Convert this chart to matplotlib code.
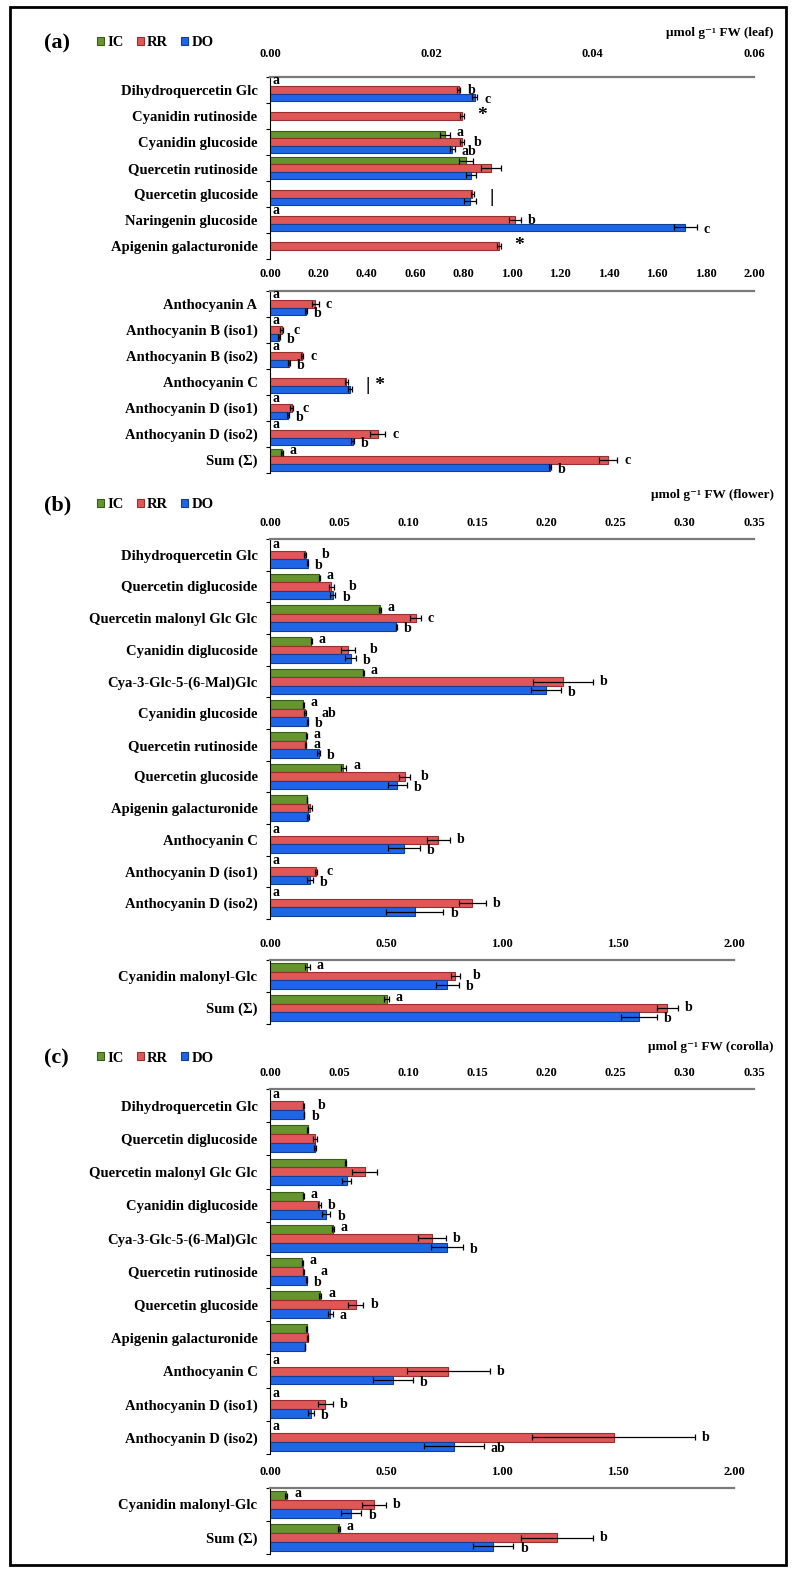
import numpy as np
import matplotlib
matplotlib.use('Agg')
import matplotlib.pyplot as plt
from matplotlib.patches import Patch, Rectangle

plt.rcParams['font.family'] = ['Liberation Serif', 'DejaVu Serif']
plt.rcParams['font.weight'] = 'bold'

W, H = 795, 1576
series = ['IC', 'RR', 'DO']
colors = ['#64952f', '#e05757', '#1f66e6']
edges = ['#3b5c19', '#963030', '#103f94']
BAR_H = 0.27

# ---- (a) leaf, upper block (0 - 0.06)
a1_cats = ['Dihydroquercetin Glc', 'Cyanidin rutinoside', 'Cyanidin glucoside',
           'Quercetin rutinoside', 'Quercetin glucoside', 'Naringenin glucoside',
           'Apigenin galacturonide']
a1_ic = [0, 0, 0.0217, 0.0243, 0, 0, 0]
a1_rr = [0.0234, 0.0238, 0.0238, 0.0274, 0.0251, 0.0304, 0.0284]
a1_do = [0.0254, 0, 0.0226, 0.0249, 0.0248, 0.0515, 0]
a1_ic_err = [0, 0, 0.0006, 0.0009, 0, 0, 0]
a1_rr_err = [0.0002, 0.0002, 0.0002, 0.00125, 0.0002, 0.00075, 0.0002]
a1_do_err = [0.0003, 0, 0.0003, 0.0006, 0.00075, 0.0014, 0]
a1_ic_lab = ['a', '', 'a', '', '', 'a', '']
a1_rr_lab = ['b', '', 'b', '', '', 'b', '']
a1_do_lab = ['c', '', 'ab', '', '', 'c', '']
a1_marks = ['', '*', '', '', '|', '', '*']

# ---- (a) leaf, lower block (0 - 2.00)
a2_cats = ['Anthocyanin A', 'Anthocyanin B (iso1)', 'Anthocyanin B (iso2)',
           'Anthocyanin C', 'Anthocyanin D (iso1)', 'Anthocyanin D (iso2)', 'Sum (Σ)']
a2_ic = [0, 0, 0, 0, 0, 0, 0.048]
a2_rr = [0.188, 0.048, 0.132, 0.316, 0.090, 0.446, 1.397]
a2_do = [0.1485, 0.038, 0.0795, 0.330, 0.075, 0.341, 1.157]
a2_ic_err = [0, 0, 0, 0, 0, 0, 0.004]
a2_rr_err = [0.0125, 0.005, 0.005, 0.005, 0.006, 0.031, 0.038]
a2_do_err = [0.005, 0.004, 0.004, 0.008, 0.004, 0.005, 0.005]
a2_ic_lab = ['a', 'a', 'a', '', 'a', 'a', 'a']
a2_rr_lab = ['c', 'c', 'c', '', 'c', 'c', 'c']
a2_do_lab = ['b', 'b', 'b', '', 'b', 'b', 'b']
a2_marks = ['', '', '', '| *', '', '', '']

# ---- (b) flower, upper block (0 - 0.35)
b1_cats = ['Dihydroquercetin Glc', 'Quercetin diglucoside', 'Quercetin malonyl Glc Glc',
           'Cyanidin diglucoside', 'Cya-3-Glc-5-(6-Mal)Glc', 'Cyanidin glucoside',
           'Quercetin rutinoside', 'Quercetin glucoside', 'Apigenin galacturonide',
           'Anthocyanin C', 'Anthocyanin D (iso1)', 'Anthocyanin D (iso2)']
b1_ic = [0, 0.0356, 0.0796, 0.0297, 0.0675, 0.0242, 0.0262, 0.0531, 0.0268, 0, 0, 0]
b1_rr = [0.0253, 0.0444, 0.1053, 0.0565, 0.2117, 0.0253, 0.0257, 0.0976, 0.029, 0.1217, 0.0332, 0.1464]
b1_do = [0.0272, 0.0455, 0.0914, 0.0583, 0.1996, 0.0272, 0.0353, 0.092, 0.0275, 0.0967, 0.0289, 0.1048]
b1_ic_err = [0, 0.0005, 0.0005, 0.0004, 0.0005, 0.0003, 0.0003, 0.002, 0.0003, 0, 0, 0]
b1_rr_err = [0.0004, 0.0018, 0.0037, 0.005, 0.0217, 0.0004, 0.0004, 0.004, 0.0012, 0.0083, 0.0008, 0.0095]
b1_do_err = [0.0004, 0.0018, 0.0004, 0.004, 0.011, 0.0004, 0.001, 0.007, 0.0004, 0.0117, 0.002, 0.0206]
b1_ic_lab = ['a', 'a', 'a', 'a', 'a', 'a', 'a', 'a', '', 'a', 'a', 'a']
b1_rr_lab = ['b', 'b', 'c', 'b', 'b', 'ab', 'a', 'b', '', 'b', 'c', 'b']
b1_do_lab = ['b', 'b', 'b', 'b', 'b', 'b', 'b', 'b', '', 'b', 'b', 'b']

# ---- (b) flower, lower block (0 - 2.00)
b2_cats = ['Cyanidin malonyl-Glc', 'Sum (Σ)']
b2_ic = [0.161, 0.503]
b2_rr = [0.799, 1.713]
b2_do = [0.764, 1.59]
b2_ic_err = [0.01, 0.01]
b2_rr_err = [0.02, 0.045]
b2_do_err = [0.05, 0.076]
b2_ic_lab = ['a', 'a']
b2_rr_lab = ['b', 'b']
b2_do_lab = ['b', 'b']

# ---- (c) corolla, upper block (0 - 0.35)
c1_cats = ['Dihydroquercetin Glc', 'Quercetin diglucoside', 'Quercetin malonyl Glc Glc',
           'Cyanidin diglucoside', 'Cya-3-Glc-5-(6-Mal)Glc', 'Quercetin rutinoside',
           'Quercetin glucoside', 'Apigenin galacturonide', 'Anthocyanin C',
           'Anthocyanin D (iso1)', 'Anthocyanin D (iso2)']
c1_ic = [0, 0.0272, 0.0547, 0.0242, 0.0455, 0.0235, 0.0363, 0.0264, 0, 0, 0]
c1_rr = [0.0242, 0.0327, 0.0686, 0.0356, 0.117, 0.0242, 0.062, 0.0272, 0.129, 0.040, 0.2484]
c1_do = [0.0246, 0.0327, 0.0554, 0.0407, 0.128, 0.0264, 0.0437, 0.0253, 0.0888, 0.0297, 0.1328]
c1_ic_err = [0, 0.0004, 0.0005, 0.0003, 0.0006, 0.0003, 0.0008, 0.0003, 0, 0, 0]
c1_rr_err = [0.0003, 0.0015, 0.009, 0.0012, 0.0103, 0.0003, 0.0055, 0.0005, 0.030, 0.0055, 0.0587]
c1_do_err = [0.0003, 0.0006, 0.003, 0.003, 0.0117, 0.0004, 0.0018, 0.0003, 0.0143, 0.0022, 0.0217]
c1_ic_lab = ['a', '', '', 'a', 'a', 'a', 'a', '', 'a', 'a', 'a']
c1_rr_lab = ['b', '', '', 'b', 'b', 'a', 'b', '', 'b', 'b', 'b']
c1_do_lab = ['b', '', '', 'b', 'b', 'b', 'a', '', 'b', 'b', 'ab']

# ---- (c) corolla, lower block (0 - 2.00)
c2_cats = ['Cyanidin malonyl-Glc', 'Sum (Σ)']
c2_ic = [0.07, 0.296]
c2_rr = [0.448, 1.238]
c2_do = [0.35, 0.962]
c2_ic_err = [0.005, 0.005]
c2_rr_err = [0.05, 0.155]
c2_do_err = [0.044, 0.087]
c2_ic_lab = ['a', 'a']
c2_rr_lab = ['b', 'b']
c2_do_lab = ['b', 'b']

ticks_006 = [0.00, 0.02, 0.04, 0.06]
ticks_2a = [0.0, 0.2, 0.4, 0.6, 0.8, 1.0, 1.2, 1.4, 1.6, 1.8, 2.0]
ticks_035 = [0.00, 0.05, 0.10, 0.15, 0.20, 0.25, 0.30, 0.35]
ticks_2b = [0.0, 0.5, 1.0, 1.5, 2.0]

fig = plt.figure(figsize=(W / 100, H / 100), dpi=100)
PT = 100 / 72      # pixels per point
CHAR_W = 5.6       # rough width of one letter label, pixels


def px(x0, y0, x1, y1):
    return [x0 / W, 1 - y1 / H, (x1 - x0) / W, (y1 - y0) / H]


def block(rect, cats, vals, errs, labs, marks, xmax, xticks, pad):
    ax = fig.add_axes(px(*rect))
    n = len(cats)
    y = np.arange(n)
    ax.set_ylim(n - 0.5, -0.5)
    ax.set_xlim(0, xmax)
    for k in range(3):
        v = np.array(vals[k], float)
        e = np.array(errs[k], float)
        yy = y + (k - 1) * BAR_H
        m = v > 0
        ax.barh(yy[m], v[m], height=BAR_H, color=colors[k], edgecolor=edges[k], linewidth=0.8)
        ax.errorbar(v[m], yy[m], xerr=e[m], fmt='none', ecolor='black',
                    elinewidth=0.9, capsize=2.2, capthick=0.9)

    # significance letters: DO first, then RR pushed right of it, then IC
    to_px = lambda xv: ax.transData.transform((xv, 0))[0]
    for i in range(n):
        pos = {}
        for k in (2, 1, 0):
            lab = labs[k][i]
            if not lab:
                continue
            end = vals[k][i] + errs[k][i]
            x0 = to_px(0)
            xp = to_px(end) + (2 if vals[k][i] == 0 else 5) * PT
            w = len(lab) * CHAR_W
            nb = k + 1
            if k == 1 and nb in pos:
                ox, ow = pos[nb]
                if xp < ox + ow + 1 and xp + w > ox - 1:
                    xp = ox + ow + 1
            pos[k] = (xp, w)
            ax.annotate(lab, (end, y[i] + (k - 1) * BAR_H), xytext=((xp - to_px(end)) / PT, (1 - k) * 1.5),
                        textcoords='offset points', ha='left', va='center', fontsize=10)
    if marks:
        for i, mk in enumerate(marks):
            if not mk:
                continue
            present = [k for k in range(3) if vals[k][i] > 0]
            ymk = np.mean([y[i] + (k - 1) * BAR_H for k in present])
            xmk = max(vals[k][i] + errs[k][i] for k in present)
            ax.annotate(mk, (xmk, ymk), xytext=(10, 0), textcoords='offset points',
                        ha='left', va='center', fontsize=14)
    ax.set_yticks(y)
    ax.set_yticklabels(cats, fontsize=10.5)
    ax.set_yticks(np.arange(n + 1) - 0.5, minor=True)
    ax.tick_params(axis='y', which='major', length=0, pad=9)
    ax.tick_params(axis='y', which='minor', length=3, width=0.8, direction='out')
    ax.xaxis.tick_top()
    ax.set_xticks(xticks)
    ax.set_xticklabels([f'{t:.2f}' for t in xticks], fontsize=9)
    ax.tick_params(axis='x', length=0, pad=pad)
    ax.spines['right'].set_visible(False)
    ax.spines['bottom'].set_visible(False)
    ax.spines['top'].set_color('#7a7a7a')
    ax.spines['top'].set_linewidth(1.6)
    ax.spines['left'].set_linewidth(0.8)
    ax.patch.set_alpha(0)
    return ax


block((270, 77, 754, 259), a1_cats, [a1_ic, a1_rr, a1_do], [a1_ic_err, a1_rr_err, a1_do_err],
      [a1_ic_lab, a1_rr_lab, a1_do_lab], a1_marks, 0.06, ticks_006, 12)
block((270, 291, 754, 473), a2_cats, [a2_ic, a2_rr, a2_do], [a2_ic_err, a2_rr_err, a2_do_err],
      [a2_ic_lab, a2_rr_lab, a2_do_lab], a2_marks, 2.0, ticks_2a, 8)
block((270, 539, 754, 919), b1_cats, [b1_ic, b1_rr, b1_do], [b1_ic_err, b1_rr_err, b1_do_err],
      [b1_ic_lab, b1_rr_lab, b1_do_lab], None, 0.35, ticks_035, 7)
block((270, 960, 734, 1024), b2_cats, [b2_ic, b2_rr, b2_do], [b2_ic_err, b2_rr_err, b2_do_err],
      [b2_ic_lab, b2_rr_lab, b2_do_lab], None, 2.0, ticks_2b, 7)
block((270, 1089, 754, 1454), c1_cats, [c1_ic, c1_rr, c1_do], [c1_ic_err, c1_rr_err, c1_do_err],
      [c1_ic_lab, c1_rr_lab, c1_do_lab], None, 0.35, ticks_035, 7)
block((270, 1488, 734, 1554), c2_cats, [c2_ic, c2_rr, c2_do], [c2_ic_err, c2_rr_err, c2_do_err],
      [c2_ic_lab, c2_rr_lab, c2_do_lab], None, 2.0, ticks_2b, 7)

# panel headers
handles = [Patch(facecolor=colors[k], edgecolor=edges[k], linewidth=0.8) for k in range(3)]
for tag, unit, yl, yu in [('(a)', 'μmol g⁻¹ FW (leaf)', 43, 33),
                          ('(b)', 'μmol g⁻¹ FW (flower)', 505, 495),
                          ('(c)', 'μmol g⁻¹ FW (corolla)', 1058, 1047)]:
    fig.text(44 / W, 1 - yl / H, tag, ha='left', va='center', fontsize=16)
    fig.text(774 / W, 1 - yu / H, unit, ha='right', va='center', fontsize=9.5)
    fig.legend(handles, series, loc='center left', bbox_to_anchor=(97 / W, 1 - yl / H),
               ncol=3, frameon=False, handlelength=0.5, handleheight=0.5,
               handletextpad=0.2, columnspacing=0.9, borderpad=0, borderaxespad=0,
               prop={'size': 10.5, 'weight': 'bold'})

fig.add_artist(Rectangle((10 / W, 1 - 1565 / H), 776 / W, 1558 / H, transform=fig.transFigure,
                         fill=False, edgecolor='black', linewidth=2))

fig.savefig('out.png', dpi=100)
